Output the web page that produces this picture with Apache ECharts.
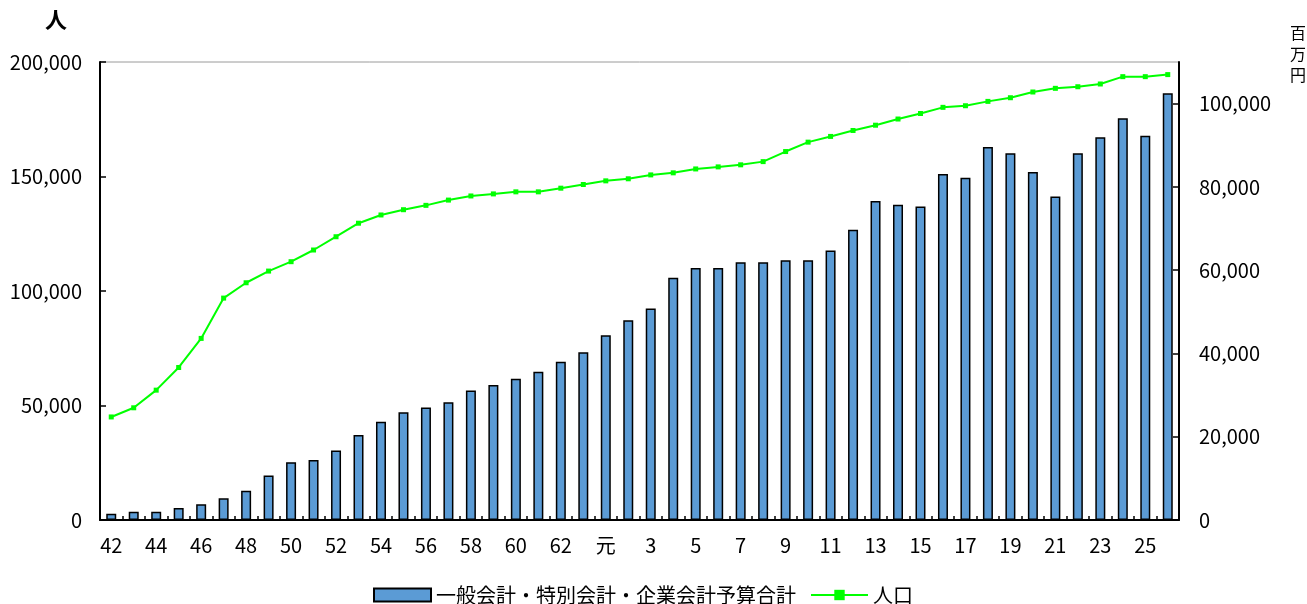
<!DOCTYPE html>
<html>
<head>
<meta charset="utf-8">
<script src="https://cdn.jsdelivr.net/npm/echarts@6/dist/echarts.min.js"></script>
<style>
html,body{margin:0;padding:0;background:#fff;}
#chart{width:1307px;height:604px;}
</style>
</head>
<body>
<div id="chart"></div>
<script>
const categories = ['42','43','44','45','46','47','48','49','50','51','52','53','54','55','56','57','58','59','60','61','62','63',
  '元','2','3','4','5','6','7','8','9','10','11','12','13','14','15','16','17','18','19','20','21','22','23','24','25','26'];

// 一般会計・特別会計・企業会計予算合計 (百万円)
const budget = [1500,2000,2000,2900,3800,5200,7000,10700,13900,14400,16700,20400,23600,25900,27000,28300,31100,32400,33900,35600,38000,40300,
  44400,48000,50800,58200,60500,60500,61900,61900,62400,62400,64700,69700,76600,75700,75300,83100,82200,89600,88100,83600,77700,88100,91900,96500,92300,102500];

// 人口 (人)
const population = [45000,49000,56700,66600,79300,96900,103600,108700,112800,117900,123700,129600,133200,135500,137400,139700,141500,142400,143300,143300,144900,146500,
  148100,149000,150700,151600,153300,154200,155100,156500,160900,165000,167500,170100,172400,175100,177500,180200,180900,182800,184400,186900,188500,189200,190400,193600,193600,194500];

const seriesNames = ['一般会計・特別会計・企業会計予算合計', '人口'];
const leftUnit = '人';
const rightUnit = '百万円';

const FONT = '"Noto Sans CJK JP", "Liberation Sans", sans-serif';

const chart = echarts.init(document.getElementById('chart'), null, {renderer: 'canvas'});
chart.setOption({
  animation: false,
  backgroundColor: '#ffffff',
  textStyle: {fontFamily: FONT, color: '#000'},
  grid: {left: 100, right: 128, top: 62, bottom: 84, show: true, borderColor: '#9a9a9a', borderWidth: 1},
  graphic: [
    {type: 'text', left: 45, top: 9, style: {text: leftUnit, font: 'bold 22px ' + FONT, fill: '#000'}},
    {type: 'text', left: 1290, top: 22, style: {text: rightUnit.split('').join('\n'), font: '16px ' + FONT, lineHeight: 21, fill: '#000'}}
  ],
  legend: {
    left: 368, top: 580, itemWidth: 57, itemHeight: 13, itemGap: 14,
    textStyle: {fontSize: 20, fontFamily: FONT, color: '#000'},
    data: [
      {name: seriesNames[0], icon: 'rect'},
      {name: seriesNames[1]}
    ]
  },
  xAxis: {
    type: 'category',
    data: categories,
    boundaryGap: true,
    axisLine: {lineStyle: {color: '#000', width: 2}},
    axisTick: {show: true, inside: true, length: 4, interval: 0, lineStyle: {color: '#000', width: 1.5}},
    axisLabel: {interval: 1, fontSize: 20, color: '#000', margin: 15, fontFamily: FONT}
  },
  yAxis: [
    {
      type: 'value', min: 0, max: 200000, interval: 50000, position: 'left',
      axisLine: {show: true, lineStyle: {color: '#000', width: 2}},
      axisTick: {show: true, inside: true, length: 6, lineStyle: {color: '#000', width: 1.5}},
      axisLabel: {fontSize: 20, color: '#000', margin: 18, fontFamily: FONT},
      splitLine: {show: false}
    },
    {
      type: 'value', min: 0, max: 110000, interval: 20000, position: 'right',
      axisLine: {show: true, lineStyle: {color: '#000', width: 2}},
      axisTick: {show: true, inside: true, length: 6, lineStyle: {color: '#000', width: 1.5}},
      axisLabel: {fontSize: 20, color: '#000', margin: 20, fontFamily: FONT, showMaxLabel: false,
        formatter: function (v) { return v > 100000 ? '' : echarts.format.addCommas(v); }},
      splitLine: {show: false}
    }
  ],
  series: [
    {
      name: seriesNames[0], type: 'bar', yAxisIndex: 1, data: budget, barWidth: 10,
      itemStyle: {color: '#5B9BD5', borderColor: '#000', borderWidth: 1.5}
    },
    {
      name: seriesNames[1], type: 'line', yAxisIndex: 0, data: population,
      symbol: 'rect', symbolSize: 5, showAllSymbol: true,
      lineStyle: {color: '#00ff00', width: 2},
      itemStyle: {color: '#00ff00'}, z: 5
    }
  ]
});
</script>
</body>
</html>
